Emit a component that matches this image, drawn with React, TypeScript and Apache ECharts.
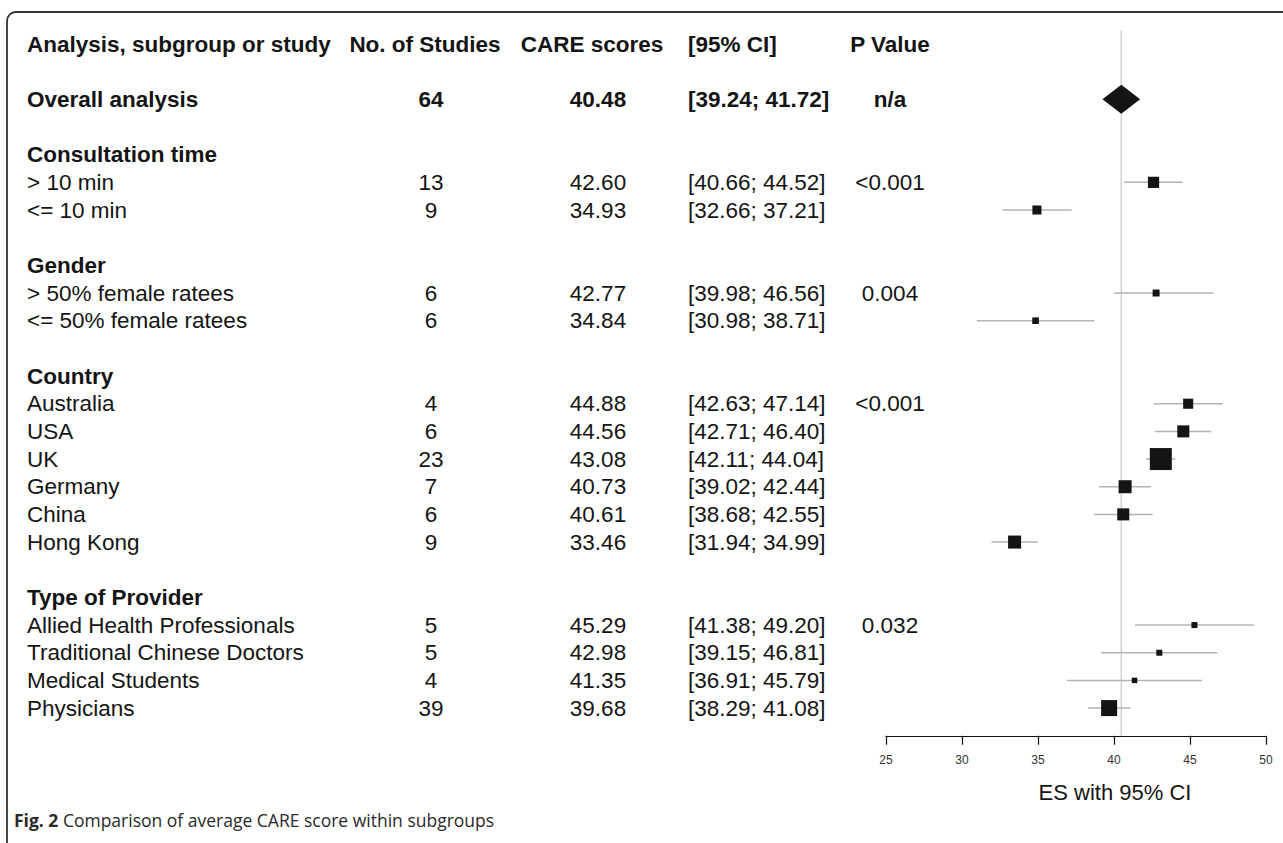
import React, { useEffect, useRef } from "react";
import * as echarts from "echarts";

// ---------- data ----------
const headers = ["Analysis, subgroup or study", "No. of Studies", "CARE scores", "[95% CI]", "P Value"];
const overallLabel = "Overall analysis";
const overallN = 64;
const overallES = 40.48;
const overallLo = 39.24;
const overallHi = 41.72;
const overallP = "n/a";

const groupNames = ["Consultation time", "Gender", "Country", "Type of Provider"];
const groupP = ["<0.001", "0.004", "<0.001", "0.032"];
const studyLabels = [
  ["> 10 min", "<= 10 min"],
  ["> 50% female ratees", "<= 50% female ratees"],
  ["Australia", "USA", "UK", "Germany", "China", "Hong Kong"],
  ["Allied Health Professionals", "Traditional Chinese Doctors", "Medical Students", "Physicians"],
];
const studyN = [[13, 9], [6, 6], [4, 6, 23, 7, 6, 9], [5, 5, 4, 39]];
const studyES = [
  [42.6, 34.93],
  [42.77, 34.84],
  [44.88, 44.56, 43.08, 40.73, 40.61, 33.46],
  [45.29, 42.98, 41.35, 39.68],
];
const studyLo = [
  [40.66, 32.66],
  [39.98, 30.98],
  [42.63, 42.71, 42.11, 39.02, 38.68, 31.94],
  [41.38, 39.15, 36.91, 38.29],
];
const studyHi = [
  [44.52, 37.21],
  [46.56, 38.71],
  [47.14, 46.4, 44.04, 42.44, 42.55, 34.99],
  [49.2, 46.81, 45.79, 41.08],
];
// relative weights (box area)
const studyWeight = [
  [26, 17],
  [10, 9],
  [21, 30, 100, 35, 30, 35],
  [7.5, 7.5, 6.3, 53],
];
const xMin = 25;
const xMax = 50;
const xInterval = 5;
const axisTitle = "ES with 95% CI";
const captionBold = "Fig. 2";
const captionText = " Comparison of average CARE score within subgroups";

// ---------- layout / styles ----------
const W = 1283;
const H = 843;
const FONT = "'Liberation Sans', Arial, Helvetica, sans-serif";
const FS = 22.5;
const TXT = "#141414";
const ROW_TOP = 44; // pixel of row 0
const ROW_H = 27.67;
const Y_MIN = -1;
const Y_MAX = 25;
const gridTop = ROW_TOP + Y_MIN * ROW_H;
const gridBottom = H - (ROW_TOP + Y_MAX * ROW_H);

// table columns (x in pixel-space axis of table grid)
const colLabel = 27;
const colN = 431;
const colES = 598;
const colCI = 688;
const colP = 890;
const headerX = [27, 425, 592, 688, 890];
const headerAlign = ["left", "center", "center", "left", "center"];

type Cell = [number, number, string, string, boolean]; // x,row,text,align,bold

function buildTable(): Cell[] {
  const cells: Cell[] = [];
  headers.forEach((h, i) => cells.push([headerX[i], 0, h, headerAlign[i], true]));
  cells.push([colLabel, 2, overallLabel, "left", true]);
  cells.push([colN, 2, String(overallN), "center", true]);
  cells.push([colES, 2, overallES.toFixed(2), "center", true]);
  cells.push([colCI, 2, `[${overallLo.toFixed(2)}; ${overallHi.toFixed(2)}]`, "left", true]);
  cells.push([colP, 2, overallP, "center", true]);
  let r = 4;
  groupNames.forEach((g, gi) => {
    cells.push([colLabel, r, g, "left", true]);
    studyLabels[gi].forEach((lab, si) => {
      const row = r + 1 + si;
      cells.push([colLabel, row, lab, "left", false]);
      cells.push([colN, row, String(studyN[gi][si]), "center", false]);
      cells.push([colES, row, studyES[gi][si].toFixed(2), "center", false]);
      cells.push([
        colCI,
        row,
        `[${studyLo[gi][si].toFixed(2)}; ${studyHi[gi][si].toFixed(2)}]`,
        "left",
        false,
      ]);
      if (si === 0) cells.push([colP, row, groupP[gi], "center", false]);
    });
    r += studyLabels[gi].length + 2;
  });
  return cells;
}

function buildStudies(): number[][] {
  const out: number[][] = [];
  let r = 4;
  groupNames.forEach((g, gi) => {
    studyLabels[gi].forEach((lab, si) => {
      out.push([studyES[gi][si], r + 1 + si, studyLo[gi][si], studyHi[gi][si], studyWeight[gi][si]]);
    });
    r += studyLabels[gi].length + 2;
  });
  return out;
}

export default function App() {
  const ref = useRef<HTMLDivElement>(null);
  useEffect(() => {
    if (!ref.current) return;
    const chart = echarts.init(ref.current, null, { renderer: "svg" });
    const table = buildTable();
    const studies = buildStudies();
    const option: any = {
      animation: false,
      backgroundColor: "#ffffff",
      grid: [
        { left: 886, right: W - 1266, top: gridTop, bottom: gridBottom },
        { left: 0, right: 0, top: gridTop, bottom: gridBottom },
      ],
      xAxis: [
        {
          type: "value",
          gridIndex: 0,
          position: "bottom",
          min: xMin,
          max: xMax,
          interval: xInterval,
          axisLine: { show: true, onZero: false, lineStyle: { color: "#111", width: 1.2 } },
          axisTick: { show: true, length: 9, lineStyle: { color: "#111", width: 1.2 } },
          axisLabel: { show: true, margin: 18, fontSize: 12, color: "#333", fontFamily: FONT },
          splitLine: { show: false },
        },
        { type: "value", gridIndex: 1, min: 0, max: W, show: false },
      ],
      yAxis: [
        { type: "value", gridIndex: 0, min: Y_MIN, max: Y_MAX, inverse: true, show: false },
        { type: "value", gridIndex: 1, min: Y_MIN, max: Y_MAX, inverse: true, show: false },
      ],
      series: [
        {
          type: "custom",
          name: "ref",
          xAxisIndex: 0,
          yAxisIndex: 0,
          data: [[overallES, -0.5, Y_MAX]],
          renderItem: (params: any, api: any) => {
            const p1 = api.coord([api.value(0), api.value(1)]);
            const p2 = api.coord([api.value(0), api.value(2)]);
            return {
              type: "line",
              shape: { x1: p1[0], y1: p1[1], x2: p2[0], y2: p2[1] },
              style: { stroke: "#d2d2d2", lineWidth: 1.5 },
            };
          },
        },
        {
          type: "custom",
          name: "overall",
          xAxisIndex: 0,
          yAxisIndex: 0,
          data: [[overallES, 2, overallLo, overallHi]],
          renderItem: (params: any, api: any) => {
            const c = api.coord([api.value(0), api.value(1)]);
            const l = api.coord([api.value(2), api.value(1)]);
            const h = api.coord([api.value(3), api.value(1)]);
            const hh = 14.5;
            return {
              type: "polygon",
              shape: {
                points: [
                  [l[0], c[1]],
                  [c[0], c[1] - hh],
                  [h[0], c[1]],
                  [c[0], c[1] + hh],
                ],
              },
              style: { fill: "#141414" },
            };
          },
        },
        {
          type: "custom",
          name: "studies",
          xAxisIndex: 0,
          yAxisIndex: 0,
          data: studies,
          renderItem: (params: any, api: any) => {
            const c = api.coord([api.value(0), api.value(1)]);
            const l = api.coord([api.value(2), api.value(1)]);
            const h = api.coord([api.value(3), api.value(1)]);
            const s = 22 * Math.sqrt(api.value(4) / 100);
            return {
              type: "group",
              children: [
                {
                  type: "line",
                  shape: { x1: l[0], y1: c[1], x2: h[0], y2: c[1] },
                  style: { stroke: "#b4b4b4", lineWidth: 1.5 },
                },
                {
                  type: "rect",
                  shape: { x: c[0] - s / 2, y: c[1] - s / 2, width: s, height: s },
                  style: { fill: "#141414" },
                },
              ],
            };
          },
        },
        {
          type: "custom",
          name: "table",
          xAxisIndex: 1,
          yAxisIndex: 1,
          data: table,
          renderItem: (params: any, api: any) => {
            const cell = table[params.dataIndex];
            const p = api.coord([cell[0], cell[1]]);
            return {
              type: "text",
              x: p[0],
              y: p[1],
              style: {
                text: cell[2],
                fontFamily: FONT,
                fontSize: FS,
                fontWeight: cell[4] ? "bold" : "normal",
                fill: TXT,
                align: cell[3],
                verticalAlign: "middle",
              },
            };
          },
        },
      ],
      graphic: [
        {
          type: "rect",
          shape: { x: 7, y: 12, width: 1300, height: 845, r: 9 },
          style: { fill: "none", stroke: "#333", lineWidth: 1.8 },
          silent: true,
        },
        {
          type: "text",
          x: 1115,
          y: 792,
          style: {
            text: axisTitle,
            fontFamily: FONT,
            fontSize: 22,
            fill: TXT,
            align: "center",
            verticalAlign: "middle",
          },
        },
        {
          type: "text",
          x: 14,
          y: 820,
          style: {
            text: `{b|${captionBold}}${captionText}`,
            fontFamily: "'Open Sans', 'Noto Sans', sans-serif",
            fontSize: 17.5,
            fill: "#2a2a2a",
            verticalAlign: "middle",
            rich: {
              b: {
                fontFamily: "'Open Sans', 'Noto Sans', sans-serif",
                fontSize: 17.5,
                fontWeight: "bold",
                fill: "#2a2a2a",
              },
            },
          },
        },
      ],
    };
    chart.setOption(option);
    return () => chart.dispose();
  }, []);
  return (
    <div
      ref={ref}
      style={{ position: "fixed", left: 0, top: 0, width: W, height: H, background: "#fff" }}
    />
  );
}
